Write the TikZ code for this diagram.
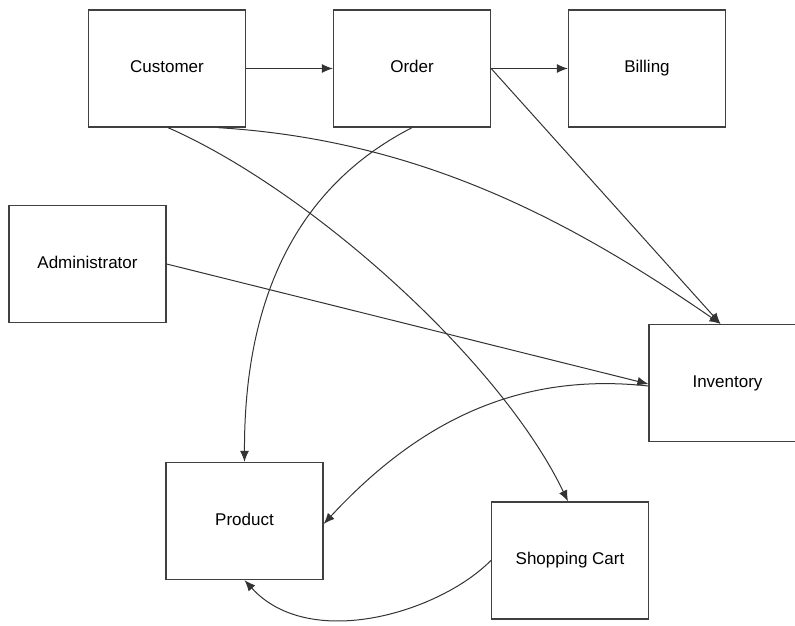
\documentclass[tikz,border=0pt]{standalone}
\usepackage{fontspec}
\setmainfont{Liberation Sans}
\usetikzlibrary{arrows.meta}

\begin{document}
\begin{tikzpicture}[x=1pt, y=-1pt, > = {Latex[length=11pt,width=9pt]}]

\tikzstyle{entity} = [rectangle, draw=black!75, line width=1.3pt, minimum width=157pt,
                      minimum height=117pt, inner sep=0pt, text height=12pt, text depth=3.5pt,
                      font=\fontsize{17}{20}\selectfont]
\tikzstyle{link} = [->, draw=black!80, line width=1pt]

\useasboundingbox (0,0) rectangle (795,626);

    % the boxes
    \node[entity] (customer) at (167,68.5) {Customer};
    \node[entity] (order) at (412,68.5) {Order};
    \node[entity] (billing) at (647,68.5) {Billing};
    \node[entity] (admin) at (87.5,264) {Administrator};
    \node[entity] (inventory) at (727.5,383) {Inventory};
    \node[entity] (product) at (244.5,521) {Product};
    \node[entity] (cart) at (570,560.5) {Shopping Cart};

    % straight links
    \draw[link] (customer.east) -- (order.west);
    \draw[link] (order.east) -- (billing.west);
    \draw[link] (order.east) -- ([xshift=-7pt]inventory.north);
    \draw[link] (admin.east) -- ([yshift=-1pt]inventory.west);

    % curved links
    \draw[link] ([xshift=51pt]customer.south) .. controls (420,140) and (570,220)
          .. ([xshift=-7pt]inventory.north);
    \draw[link] ([xshift=1pt]customer.south) .. controls (310,190) and (500,360)
          .. ([xshift=-2pt]cart.north);
    \draw[link] (order.south) .. controls (310,180) and (244,280)
          .. (product.north);
    \draw[link] ([yshift=-3pt]inventory.west) .. controls (520,372) and (420,420)
          .. ([yshift=-3pt]product.east);
    \draw[link] (cart.west) .. controls (440,612) and (310,652)
          .. (product.south);

\end{tikzpicture}
\end{document}
